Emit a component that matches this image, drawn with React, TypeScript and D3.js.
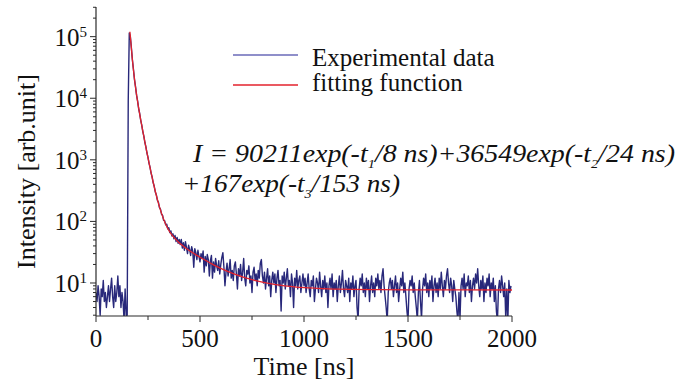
import React from 'react';
import * as d3 from 'd3';

// Time step of the recorded decay trace (ns)
const timeStep = 5;

// Experimental counts, one value every 5 ns from t = 0 to 1995 ns
const experimentalCounts: number[] = [
  // 0 - 145 ns (before excitation)
  7, 5, 9, 6, 3, 8, 6, 11, 5, 7, 4, 6, 9, 5, 8, 12, 6, 4, 9, 5, 7, 13, 6, 9, 4, 7, 5, 2.5, 8, 3,
  // 150 - 160 ns (rising edge)
  3, 9000, 115000,
  // 165 - 400 ns
  101000, 66500, 41800, 29600, 20100, 15400, 11200, 9050, 6800, 5650,
  4380, 3650, 2870, 2420, 1910, 1620, 1290, 1095, 875, 752,
  602, 526, 424, 372, 301, 272, 221, 205, 168, 158,
  131, 126, 104, 103, 88, 90, 76, 79, 66, 70,
  58, 63, 52, 59, 47, 55, 44, 51,
  // 405 - 600 ns
  42, 51, 37, 45, 34, 47, 38, 30, 41, 35,
  28, 39, 33, 18, 36, 31, 24, 34, 27, 22,
  30, 25, 33, 15, 27, 19, 29, 24, 13, 23,
  28, 12, 22, 15, 25, 19, 16, 23, 14, 20,
  // 605 - 995 ns
  26, 31, 18, 9, 15, 21, 13, 17, 24, 12,
  16, 11, 19, 22, 14, 8, 17, 13, 20, 11,
  15, 25, 12, 9, 16, 14, 19, 10, 13, 7,
  15, 18, 11, 14, 9, 16, 12, 21, 24, 13,
  10, 15, 8, 12, 17, 9, 13, 6, 11, 15,
  10, 14, 7, 12, 16, 9, 11, 3.5, 13, 10,
  15, 8, 12, 17, 9, 11, 6, 14, 10, 4,
  12, 9, 16, 8, 11, 13, 7, 10, 14,
  // 1000 - 1995 ns
  9, 12, 7, 10, 14, 8, 6, 11, 9, 13,
  5, 8, 12, 10, 7, 15, 9, 6, 11, 8,
  13, 7, 10, 4, 9, 12, 8, 14, 6, 10,
  8, 11, 5, 9, 13, 7, 10, 16, 8, 6,
  11, 9, 7, 12, 5, 10, 8, 13, 6, 9,
  11, 4, 2.5, 8, 12, 9, 14, 7, 10, 6,
  12, 8, 11, 5, 9, 13, 7, 10, 6, 12,
  9, 14, 8, 11, 7, 13, 17, 9, 6, 4,
  2.4, 7, 10, 12, 8, 11, 6, 9, 13, 7,
  10, 5, 8, 12, 9, 15, 7, 10, 6, 3.5,
  2.4, 8, 11, 9, 13, 7, 10, 6, 4, 2.5,
  7, 11, 5, 2.6, 8, 12, 9, 14, 7, 10,
  6, 11, 8, 13, 5, 9, 12, 7, 10, 6,
  12, 8, 15, 9, 6, 11, 8, 13, 17, 10,
  7, 12, 9, 5, 11, 8, 6, 3.5, 2.4, 7,
  2.6, 9, 12, 8, 14, 6, 10, 9, 13, 7,
  11, 5, 9, 12, 8, 14, 10, 17, 9, 6,
  11, 8, 13, 5, 10, 7, 12, 9, 14, 6,
  10, 8, 12, 5, 9, 3.5, 2.4, 8, 11, 7,
  13, 9, 6, 10, 2.6, 8, 2.4, 11, 7, 9,
];

// Fitted curve, sampled (ns, counts)
const fitTimes = [163, 168, 173, 183, 193, 203, 213, 223, 243, 263, 283, 303, 323, 343, 363, 393, 423, 463, 513, 563, 613, 663, 763, 863, 963, 1063, 1163, 1363, 1563, 2000];
const fitValues = [120000, 78000, 50000, 23400, 12700, 7650, 4850, 3170, 1410, 660, 330, 182, 113, 79, 61.5, 47.3, 38.9, 31.2, 24.7, 19.9, 16.5, 14.1, 11.0, 9.4, 8.6, 8.2, 7.95, 7.8, 7.72, 7.7];

const xTicks = [0, 500, 1000, 1500, 2000];
const xMinorTicks = [250, 750, 1250, 1750];
const yTickExponents = [1, 2, 3, 4, 5];
const legendLabels = ['Experimental data', 'fitting function'];
const xLabel = 'Time [ns]';
const yLabel = 'Intensity [arb.unit]';

const BLUE = '#28287a';
const BLUE_LEGEND = '#6a6ab8';
const RED = '#e3222c';
const AXIS = '#2a2a2a';
const FONT = '"Liberation Serif", serif';

export default function App() {
  const W = 691;
  const H = 382;
  const x = d3.scaleLinear().domain([0, 2000]).range([96, 512]);
  const y = d3.scaleLog().domain([2.911, 3.03e5]).range([316, 7]);
  const [x0, x1] = x.range();
  const [yb, yt] = y.range();

  const expLine = d3
    .line<number>()
    .x((_, i) => x(i * timeStep))
    .y((d) => y(d));
  const fitLine = d3
    .line<number>()
    .x((_, i) => x(fitTimes[i]))
    .y((d) => y(d))
    .curve(d3.curveMonotoneX);

  const yMinor: number[] = [];
  for (let e = 0; e <= 5; e++) {
    for (let m = 2; m <= 9; m++) {
      const v = m * Math.pow(10, e);
      if (v >= 2.911 && v <= 3.03e5) yMinor.push(v);
    }
  }

  return (
    <svg width={W} height={H} style={{ position: 'absolute', left: 0, top: 0, background: '#fff' }} fontFamily={FONT}>
      <defs>
        <clipPath id="plotClip">
          <rect x={x0} y={yt} width={x1 - x0} height={yb - yt} />
        </clipPath>
      </defs>

      <g clipPath="url(#plotClip)">
        <path d={expLine(experimentalCounts) || ''} fill="none" stroke={BLUE} strokeWidth={1.4} strokeLinejoin="round" />
        <path d={fitLine(fitValues) || ''} fill="none" stroke={RED} strokeWidth={1.3} />
      </g>

      {/* axes */}
      <line x1={x0} x2={x0} y1={yt} y2={yb} stroke={AXIS} strokeWidth={1.2} />
      <line x1={x0} x2={x1} y1={yb} y2={yb} stroke={AXIS} strokeWidth={1.2} />

      {xTicks.map((t) => (
        <g key={'xt' + t}>
          <line x1={x(t)} x2={x(t)} y1={yb} y2={yb + 6} stroke={AXIS} strokeWidth={1} />
          <text x={x(t)} y={yb + 31} fontSize={25} textAnchor="middle" fill="#111">
            {t}
          </text>
        </g>
      ))}
      {xMinorTicks.map((t) => (
        <line key={'xm' + t} x1={x(t)} x2={x(t)} y1={yb} y2={yb + 4} stroke={AXIS} strokeWidth={1} />
      ))}

      {yTickExponents.map((e) => {
        const v = Math.pow(10, e);
        return (
          <g key={'yt' + e}>
            <line x1={x0 - 6} x2={x0} y1={y(v)} y2={y(v)} stroke={AXIS} strokeWidth={1} />
            <text x={87} y={y(v) + 9} fontSize={25} textAnchor="end" fill="#111">
              10
              <tspan fontSize={15} dy={-9}>
                {e}
              </tspan>
            </text>
          </g>
        );
      })}
      {yMinor.map((v, i) => (
        <line key={'ym' + i} x1={x0 - 3} x2={x0} y1={y(v)} y2={y(v)} stroke={AXIS} strokeWidth={1} />
      ))}

      <text x={(x0 + x1) / 2} y={375} fontSize={26} textAnchor="middle" fill="#111">
        {xLabel}
      </text>
      <text transform={`translate(35, ${(yt + yb) / 2 + 10}) rotate(-90)`} fontSize={26} textAnchor="middle" fill="#111">
        {yLabel}
      </text>

      {/* legend */}
      <line x1={233} x2={298} y1={55} y2={55} stroke={BLUE_LEGEND} strokeWidth={1.3} />
      <line x1={233} x2={298} y1={85} y2={85} stroke={RED} strokeWidth={1.3} />
      <text x={312} y={66} fontSize={25} fill="#111">
        {legendLabels[0]}
      </text>
      <text x={312} y={91} fontSize={25} fill="#111">
        {legendLabels[1]}
      </text>

      {/* fitted equation */}
      <text x={193} y={162} fontSize={25} fontStyle="italic" fill="#111" textLength={482} lengthAdjust="spacingAndGlyphs">
        I = 90211exp(-t
        <tspan fontSize={13} dy={6}>1</tspan>
        <tspan dy={-6}>/8 ns)+36549exp(-t</tspan>
        <tspan fontSize={13} dy={6}>2</tspan>
        <tspan dy={-6}>/24 ns)</tspan>
      </text>
      <text x={182} y={192} fontSize={25} fontStyle="italic" fill="#111" textLength={218} lengthAdjust="spacingAndGlyphs">
        +167exp(-t
        <tspan fontSize={13} dy={6}>3</tspan>
        <tspan dy={-6}>/153 ns)</tspan>
      </text>
    </svg>
  );
}
